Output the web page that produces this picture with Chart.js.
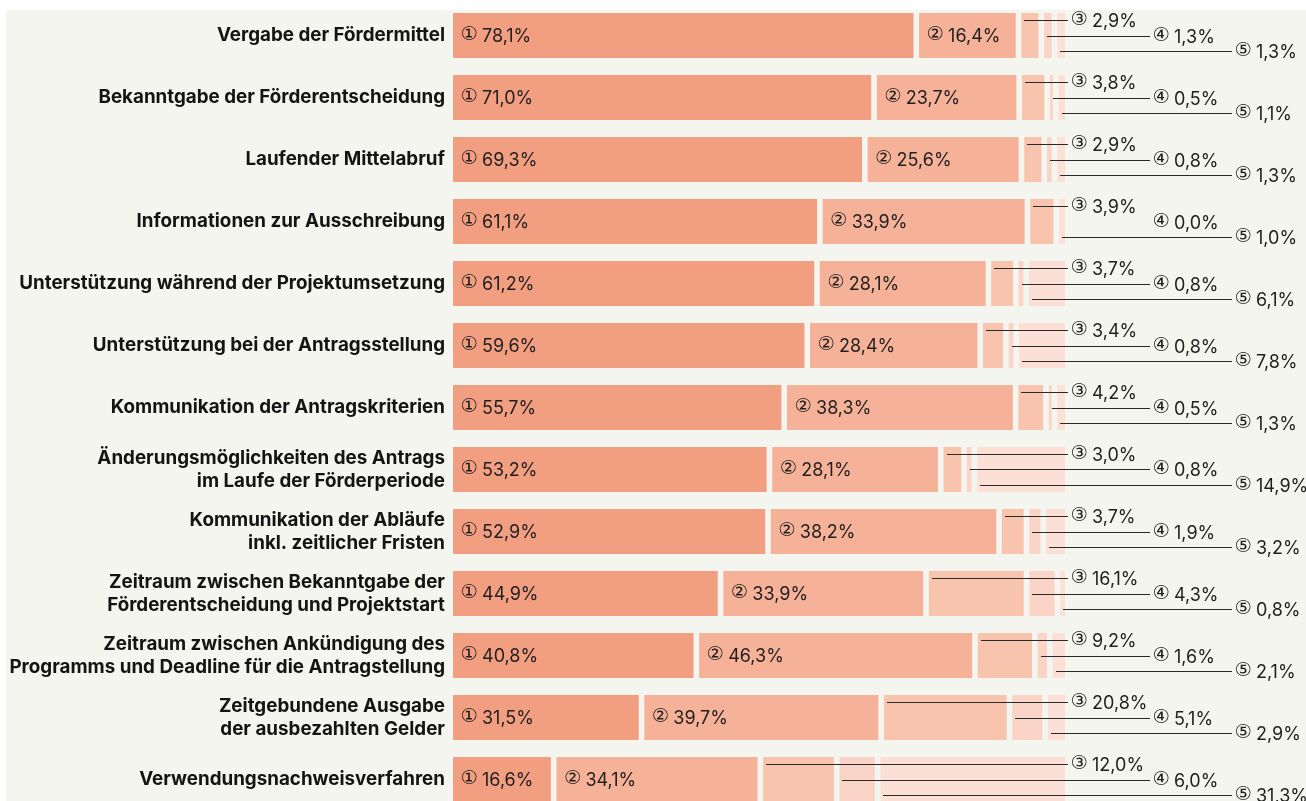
<!DOCTYPE html>
<html>
<head>
<meta charset="utf-8">
<script src="https://cdn.jsdelivr.net/npm/chart.js@4/dist/chart.umd.min.js"></script>
<style>
  html, body { margin: 0; padding: 0; background: #ffffff; overflow: hidden; width: 1306px; height: 801px; }
  #panel { position: absolute; left: 6px; top: 10px; right: 0; bottom: 0; background: #f5f5f0; }
  #c { position: absolute; left: 0; top: 0; }
</style>
</head>
<body>
<div id="panel"></div>
<canvas id="c" width="1306" height="820"></canvas>
<script>
// ---- data ----
const categories = [
  "Vergabe der Fördermittel",
  "Bekanntgabe der Förderentscheidung",
  "Laufender Mittelabruf",
  "Informationen zur Ausschreibung",
  "Unterstützung während der Projektumsetzung",
  "Unterstützung bei der Antragsstellung",
  "Kommunikation der Antragskriterien",
  ["Änderungsmöglichkeiten des Antrags", "im Laufe der Förderperiode"],
  ["Kommunikation der Abläufe", "inkl. zeitlicher Fristen"],
  ["Zeitraum zwischen Bekanntgabe der", "Förderentscheidung und Projektstart"],
  ["Zeitraum zwischen Ankündigung des", "Programms und Deadline für die Antragstellung"],
  ["Zeitgebundene Ausgabe", "der ausbezahlten Gelder"],
  "Verwendungsnachweisverfahren"
];
const series1 = [78.1, 71.0, 69.3, 61.1, 61.2, 59.6, 55.7, 53.2, 52.9, 44.9, 40.8, 31.5, 16.6];
const series2 = [16.4, 23.7, 25.6, 33.9, 28.1, 28.4, 38.3, 28.1, 38.2, 33.9, 46.3, 39.7, 34.1];
const series3 = [2.9, 3.8, 2.9, 3.9, 3.7, 3.4, 4.2, 3.0, 3.7, 16.1, 9.2, 20.8, 12.0];
const series4 = [1.3, 0.5, 0.8, 0.0, 0.8, 0.8, 0.5, 0.8, 1.9, 4.3, 1.6, 5.1, 6.0];
const series5 = [1.3, 1.1, 1.3, 1.0, 6.1, 7.8, 1.3, 14.9, 3.2, 0.8, 2.1, 2.9, 31.3];
const seriesMarks = ["①", "②", "③", "④", "⑤"];

// ---- styles ----
const seriesColors = ["#f29e80", "#f6b298", "#f8c4ae", "#fad5c7", "#fce0d6"];
const GAP_PX = 5.6;
const PLOT_W = 612;
const gapU = GAP_PX / PLOT_W * 100;

const allSeries = [series1, series2, series3, series4, series5];

// build floating ranges: each row fills the full width, with gaps between non-zero segments
const ranges = allSeries.map(() => []);
categories.forEach((_, i) => {
  const vals = allSeries.map(s => s[i]);
  const S = vals.reduce((a, b) => a + b, 0);
  const n = vals.filter(v => v > 0).length;
  const usable = 100 - (n - 1) * gapU;
  let pos = 0;
  vals.forEach((v, k) => {
    if (v > 0) {
      const w = v / S * usable;
      ranges[k].push([pos, pos + w]);
      pos += w + gapU;
    } else {
      ranges[k].push([pos, pos]);
    }
  });
});

const fmt = v => v.toFixed(1).replace(".", ",") + "%";
const VALUE_FONT = "400 18px Inter, 'DejaVu Sans', sans-serif";
const MARK_FAMILY = "'DejaVu Sans', 'Noto Sans', sans-serif";
const MARK_VIS = 14.5;   // visible width of the circled number
const TEXT_OFF = 20;     // value text offset from label start

const labelPlugin = {
  id: "segLabels",
  afterDatasetsDraw(chart) {
    const ctx = chart.ctx;
    const right = chart.chartArea.right;
    const lineEnd = [0, 0, right + 3, right + 85, right + 167];
    const textX = [0, 0, right + 8, right + 90, right + 172];
    ctx.save();
    // size the circled-number glyph by its visible (ink) width
    ctx.font = "100px " + MARK_FAMILY;
    const m = ctx.measureText("①");
    let ink = (m.actualBoundingBoxLeft || 0) + (m.actualBoundingBoxRight || 0);
    if (!ink || ink <= 0) ink = m.width * 0.65;
    const scale = MARK_VIS / ink;
    const markSize = 100 * scale;
    const markLeft = -(m.actualBoundingBoxLeft || 0) * scale;
    const markFont = markSize.toFixed(2) + "px " + MARK_FAMILY;
    ctx.textBaseline = "middle";
    ctx.textAlign = "left";
    const drawLabel = (k, v, x, y) => {
      ctx.fillStyle = "#1f1f1f";
      ctx.font = markFont;
      ctx.fillText(seriesMarks[k], x - markLeft, y);
      ctx.font = VALUE_FONT;
      ctx.fillText(fmt(v), x + TEXT_OFF, y + 1);
    };
    categories.forEach((_, i) => {
      allSeries.forEach((s, k) => {
        const el = chart.getDatasetMeta(k).data[i];
        const p = el.getProps(["x", "y", "base", "height"], true);
        const start = Math.min(p.x, p.base);
        const v = s[i];
        if (k < 2) {
          drawLabel(k, v, start + 9, p.y);
        } else {
          let ly;
          if (k === 2) ly = p.y - p.height / 2 + 7;
          else if (k === 3) ly = p.y;
          else ly = p.y + p.height / 2 - 7;
          ly = Math.round(ly);
          if (v > 0) {
            ctx.strokeStyle = "#2a2a2a";
            ctx.lineWidth = 1;
            ctx.beginPath();
            ctx.moveTo(Math.round(start + 3), ly + 0.5);
            ctx.lineTo(lineEnd[k], ly + 0.5);
            ctx.stroke();
          }
          drawLabel(k, v, textX[k] - 1, ly + 0.5);
        }
      });
    });
    ctx.restore();
  }
};

new Chart(document.getElementById("c"), {
  type: "bar",
  data: {
    labels: categories,
    datasets: allSeries.map((s, k) => ({
      label: seriesMarks[k],
      data: ranges[k],
      backgroundColor: seriesColors[k],
      borderWidth: 0,
      borderSkipped: false,
      grouped: false,
      barPercentage: 45 / 62,
      categoryPercentage: 1
    }))
  },
  options: {
    indexAxis: "y",
    responsive: false,
    devicePixelRatio: 1,
    animation: false,
    layout: { padding: { top: 4.5, bottom: 9.5, left: 0, right: 241 } },
    plugins: { legend: { display: false }, tooltip: { enabled: false } },
    scales: {
      x: { display: false, min: 0, max: 100 },
      y: {
        grid: { display: false, drawTicks: false },
        border: { display: false },
        ticks: {
          color: "#141414",
          padding: 8,
          autoSkip: false,
          font: { family: "Inter, 'DejaVu Sans', sans-serif", size: 18.8, weight: "700", lineHeight: 1.23 }
        },
        afterFit(scale) {
          scale.width = 453;
          scale.paddingTop = 0;
          scale.paddingBottom = 0;
        }
      }
    }
  },
  plugins: [labelPlugin]
});
</script>
</body>
</html>
